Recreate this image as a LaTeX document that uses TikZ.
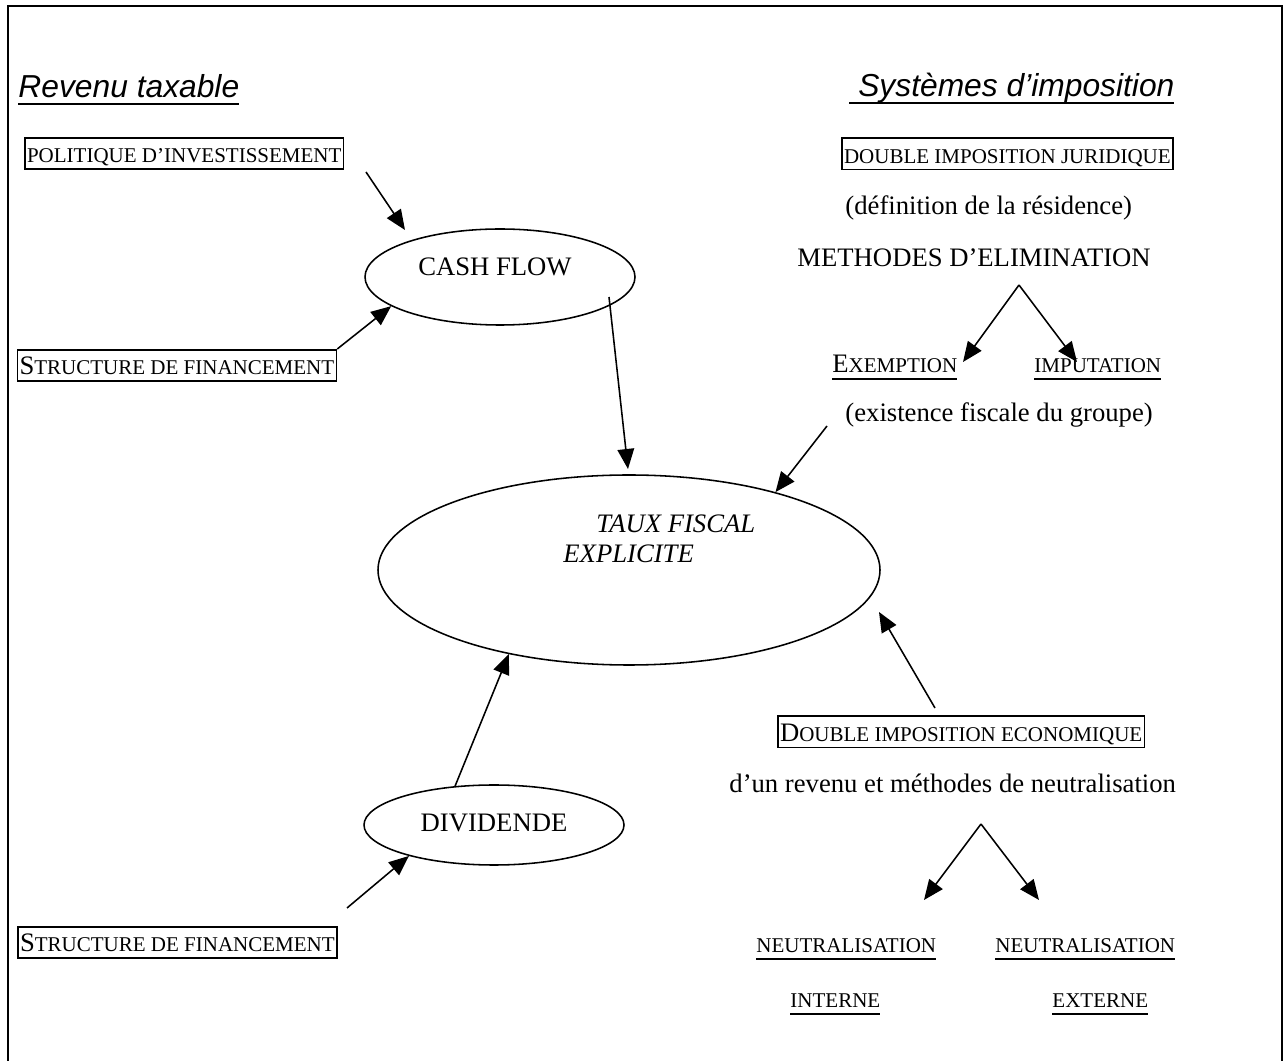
\documentclass[tikz,border=0pt]{standalone}
\usepackage{fontspec}
\setmainfont{Liberation Serif}
\setsansfont{Liberation Sans}
\usetikzlibrary{arrows.meta,shapes.geometric}
\newcommand{\pc}{\fontsize{9.45pt}{11pt}\selectfont}
\newsavebox{\soulbox}
\newcommand{\souligne}[1]{\sbox{\soulbox}{#1}\rlap{\rule[-3.1pt]{\wd\soulbox}{0.8pt}}\usebox{\soulbox}}

\begin{document}
\begin{tikzpicture}[
    x=0.45pt, y=-0.45pt,
    every node/.style={font=\fontsize{12pt}{14pt}\selectfont, inner sep=0pt},
    titre/.style={font=\fontsize{14.3pt}{17pt}\selectfont\sffamily\itshape, anchor=base west},
    texte/.style={anchor=base west},
    petite/.style={anchor=base west, font=\pc},
    penche/.style={anchor=base west, font=\fontsize{12pt}{14pt}\selectfont\itshape},
    boite/.style={draw, line width=0.75pt, anchor=west, inner xsep=1pt, text height=11.3pt, text depth=2.8pt},
    bulle/.style={ellipse, draw, line width=0.7pt},
    fleche/.style={-{Triangle[length=9pt,width=7.5pt]}, line width=0.7pt}
]
\useasboundingbox (0,0) rectangle (1285,1061);

% Cadre
\draw[line width=0.9pt] (8,1061) -- (8,6) -- (1282,6) -- (1282,1061);

% Titres
\node[titre] (revenu) at (18,98) {\souligne{Revenu taxable}};
\node[titre] (systemes) at (849,97) {\souligne{~Systèmes d’imposition}};

% Colonne de gauche
\node[boite] (politique) at (24,153.5) {{\pc POLITIQUE D’INVESTISSEMENT}};
\node[boite] (financeA) at (16.5,365.5) {S{\pc TRUCTURE DE FINANCEMENT}\hspace{4.5pt}};
\node[boite] (financeB) at (17,942.5) {S{\pc TRUCTURE DE FINANCEMENT}};

\node[bulle, minimum width=121.5pt, minimum height=43.2pt] (cash) at (500,277) {};
\node[anchor=base] (cashtxt) at (495,276) {CASH FLOW};

\node[bulle, minimum width=225.9pt, minimum height=85.5pt] (taux) at (629,570) {};
\node[penche] (tauxA) at (596,533) {TAUX FISCAL};
\node[penche] (tauxB) at (563,563) {EXPLICITE};

\node[bulle, minimum width=117pt, minimum height=36pt] (dividende) at (494,825) {};
\node[anchor=base] (divtxt) at (494,832) {DIVIDENDE};

% Colonne de droite
\node[boite] (juridique) at (841,154) {{\pc DOUBLE IMPOSITION JURIDIQUE}};
\node[texte] (residence) at (845,215) {(définition de la résidence)};
\node[texte] (methodes) at (797,267) {METHODES D’ELIMINATION};
\node[texte] (exemption) at (832,373) {\souligne{E{\pc XEMPTION}}};
\node[petite] (imputation) at (1034,373) {\souligne{IMPUTATION}};
\node[texte] (existence) at (845,422) {(existence fiscale du groupe)};

\node[boite] (economique) at (777,732) {D{\pc OUBLE IMPOSITION ECONOMIQUE}};
\node[texte] (neutralisation) at (729,793) {d’un revenu et méthodes de neutralisation};
\node[petite] (neutreA) at (756,953) {\souligne{NEUTRALISATION}};
\node[petite] (neutreB) at (995,953) {\souligne{NEUTRALISATION}};
\node[petite] (interne) at (790,1008) {\souligne{INTERNE}};
\node[petite] (externe) at (1052,1008) {\souligne{EXTERNE}};

% Bouts libres des fleches
\coordinate (polA) at (366,172);
\coordinate (polB) at (405,230);
\coordinate (cashA) at (609,297);
\coordinate (cashB) at (628,469);
\coordinate (exiA) at (827,426);
\coordinate (ecoA) at (935,708);
\coordinate (ecoB) at (879,612);
\coordinate (finB) at (347,908);
\coordinate (elim) at (1019,285);
\coordinate (exeB) at (963,362);
\coordinate (impB) at (1077,362);
\coordinate (neut) at (981,824);
\coordinate (intB) at (924,900);
\coordinate (extB) at (1039,900);

% Fleches
\draw[fleche] (polA) -- (polB);
\draw[fleche] (financeA.north east) -- (cash.195);
\draw[fleche] (cashA) -- (cashB);
\draw[fleche] (exiA) -- (taux.28);
\draw[fleche] (ecoA) -- (ecoB);
\draw[fleche] (dividende.135) -- (taux.215);
\draw[fleche] (finB) -- (dividende.200);
\draw[fleche] (elim) -- (exeB);
\draw[fleche] (elim) -- (impB);
\draw[fleche] (neut) -- (intB);
\draw[fleche] (neut) -- (extB);

\end{tikzpicture}
\end{document}
